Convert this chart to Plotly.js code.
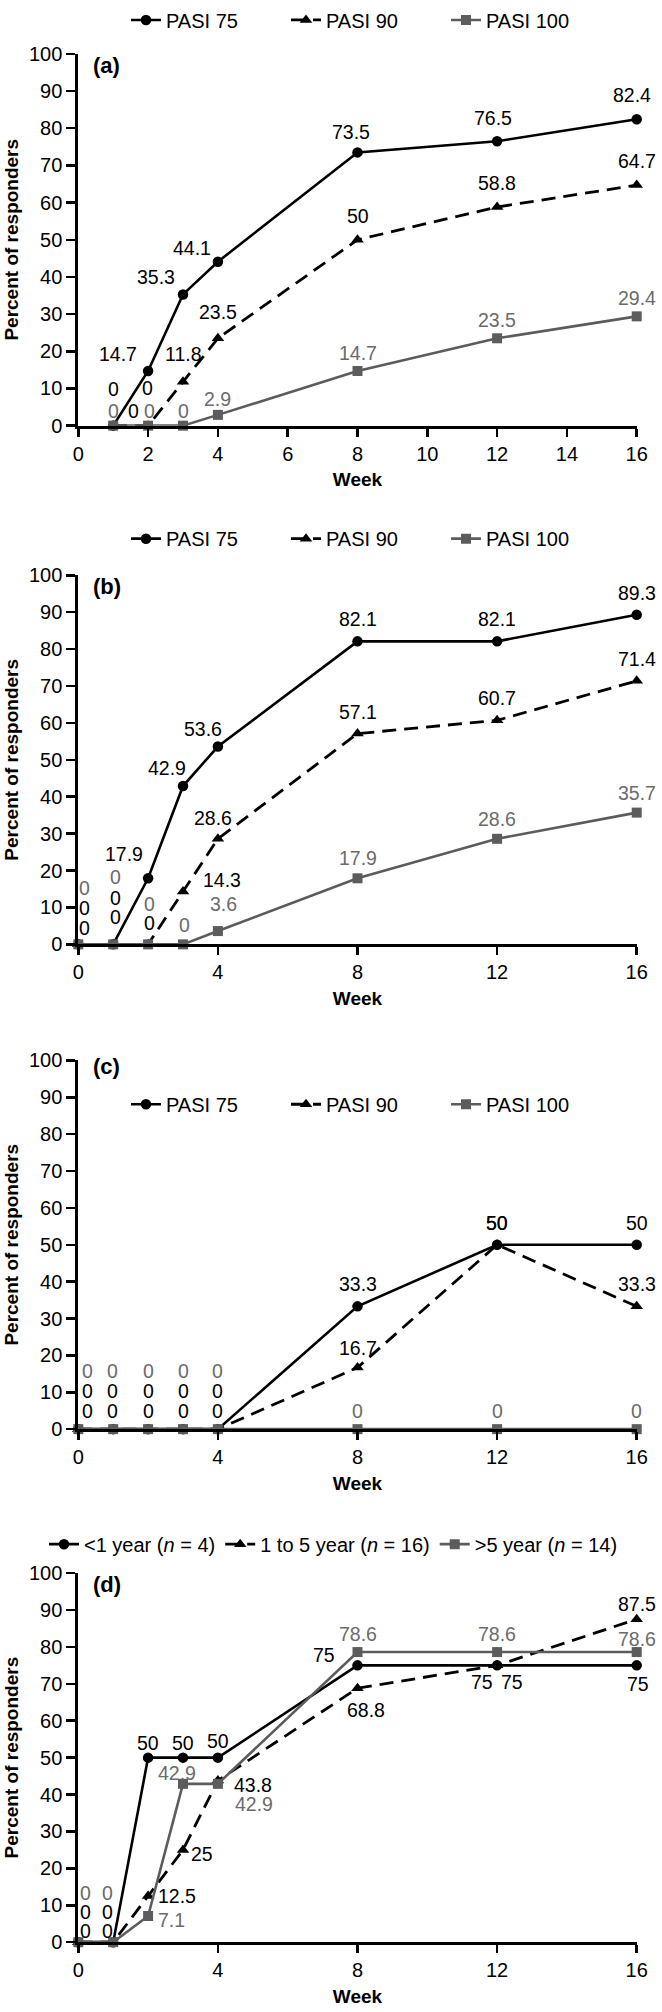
<!DOCTYPE html>
<html>
<head>
<meta charset="utf-8">
<script src="https://cdn.plot.ly/plotly-3.0.1.min.js"></script>
<style>
html,body{margin:0;padding:0;background:#fff;}
#chart{width:662px;height:2012px;}
</style>
</head>
<body>
<div id="chart"></div>
<script>
// ---------------- DATA ----------------
// Panel (a)
const weeksA = [1, 2, 3, 4, 8, 12, 16];
const pasi75A = [0, 14.7, 35.3, 44.1, 73.5, 76.5, 82.4];
const pasi90A = [0, 0, 11.8, 23.5, 50, 58.8, 64.7];
const pasi100A = [0, 0, 0, 2.9, 14.7, 23.5, 29.4];
// Panel (b)
const weeksB = [0, 1, 2, 3, 4, 8, 12, 16];
const pasi75B = [0, 0, 17.9, 42.9, 53.6, 82.1, 82.1, 89.3];
const pasi90B = [0, 0, 0, 14.3, 28.6, 57.1, 60.7, 71.4];
const pasi100B = [0, 0, 0, 0, 3.6, 17.9, 28.6, 35.7];
// Panel (c)
const weeksC = [0, 1, 2, 3, 4, 8, 12, 16];
const pasi75C = [0, 0, 0, 0, 0, 33.3, 50, 50];
const pasi90C = [0, 0, 0, 0, 0, 16.7, 50, 33.3];
const pasi100C = [0, 0, 0, 0, 0, 0, 0, 0];
// Panel (d)
const weeksD = [0, 1, 2, 3, 4, 8, 12, 16];
const lt1yrD = [0, 0, 50, 50, 50, 75, 75, 75];
const yr1to5D = [0, 0, 12.5, 25, 43.8, 68.8, 75, 87.5];
const gt5yrD = [0, 0, 7.1, 42.9, 42.9, 78.6, 78.6, 78.6];

const namesPASI = ['PASI 75', 'PASI 90', 'PASI 100'];
const namesD = ['<1 year (<i>n</i> = 4)', '1 to 5 year (<i>n</i> = 16)', '>5 year (<i>n</i> = 14)'];
const panelLetters = ['(a)', '(b)', '(c)', '(d)'];
const xTicksA = [0, 2, 4, 6, 8, 10, 12, 14, 16];
const xTicksBCD = [0, 4, 8, 12, 16];
const yTicks = [0, 10, 20, 30, 40, 50, 60, 70, 80, 90, 100];
const yTitle = 'Percent of responders';
const xTitle = 'Week';

// ---------------- LABEL PLACEMENT (pixel shifts: [right, up]) ----------------
const shiftA = [
  [[0,37],[-30,17],[-27,17],[-26,14],[-7,20],[-4,23],[-5,24]],
  [[34,38],[-15,15],[0,28],[0,26],[0,24],[0,24],[0,24]],
  [[0,15],[1,15],[0,15],[0,16],[0,18],[0,18],[0,18]]
];
const shiftB = [
  [[6,16],[2,27],[-24,24],[-16,18],[-15,18],[0,22],[0,22],[0,22]],
  [[6,36],[2,46],[1,21],[39,12],[-5,21],[0,22],[0,22],[0,22]],
  [[6,56],[2,67],[1,40],[1,19],[6,27],[0,20],[0,20],[0,20]]
];
const shiftC = [
  [[9,38],[-1,38],[0,38],[0,38],[0,38],[0,22],[0,22],[0,22]],
  [[9,18],[-1,18],[0,18],[0,18],[0,18],[0,20],[0,22],[0,22]],
  [[9,58],[-1,58],[0,58],[0,58],[0,58],[0,18],[0,18],[0,18]]
];
const shiftD = [
  [[7,30],[-6,30],[0,15],[0,15],[0,17],[-34,10],[-15,-17],[1,-19]],
  [[7,11],[-6,11],[29,0],[19,-4],[35,-4],[8,-22],[15,-17],[0,15]],
  [[7,49],[-6,49],[23,-4],[-6,11],[36,-20],[0,18],[0,18],[0,13]]
];

// ---------------- STYLE ----------------
const FONT = 'Liberation Sans, Arial, Helvetica, sans-serif';
const GRAY = '#5c5c5c';
const GRAY_TXT = '#6b6b6b';
const W = 662, H = 2012;
const xL = 78.3, xR = 636.7;
const styles = [
  {line:{color:'#000', width:2.6}, marker:{symbol:'circle', size:10.5, color:'#000'}, txt:'#000'},
  {line:{color:'#000', width:2.8, dash:'14px,8px'}, marker:{symbol:'triangle-up', size:11, color:'#000'}, txt:'#000'},
  {line:{color:GRAY, width:2.6}, marker:{symbol:'square', size:10, color:GRAY}, txt:GRAY_TXT}
];

const panels = [
  {weeks:weeksA, series:[pasi75A, pasi90A, pasi100A], names:namesPASI, shifts:shiftA, ticks:xTicksA,
   top:49, bottom:421.7, legY:15, legX:126, entry:115, letterDown:12},
  {weeks:weeksB, series:[pasi75B, pasi90B, pasi100B], names:namesPASI, shifts:shiftB, ticks:xTicksBCD,
   top:571.7, bottom:941.7, legY:535, legX:126, entry:115, letterDown:11},
  {weeks:weeksC, series:[pasi75C, pasi90C, pasi100C], names:namesPASI, shifts:shiftC, ticks:xTicksBCD,
   top:1058, bottom:1427.7, legY:1102, legX:126, entry:115, letterDown:6},
  {weeks:weeksD, series:[lt1yrD, yr1to5D, gt5yrD], names:namesD, shifts:shiftD, ticks:xTicksBCD,
   top:1572, bottom:1942, legY:1543, legX:44, entry:null, letterDown:11}
];

const traces = [];
const annotations = [];
const layout = {
  width: W, height: H,
  margin: {l:0, r:0, t:0, b:0},
  paper_bgcolor: '#fff', plot_bgcolor: 'rgba(0,0,0,0)',
  font: {family: FONT, color: '#000'},
  showlegend: true,
  annotations: annotations
};

panels.forEach((p, k) => {
  const sfx = k === 0 ? '' : String(k + 1);
  const xa = 'x' + sfx, ya = 'y' + sfx;
  const legName = k === 0 ? 'legend' : 'legend' + (k + 1);
  const yDom = [1 - p.bottom / H, 1 - p.top / H];
  layout['xaxis' + sfx] = {
    domain: [xL / W, xR / W], range: [0, 16], anchor: ya,
    tickvals: p.ticks, ticktext: p.ticks.map(String),
    ticks: 'outside', ticklen: 8, tickwidth: 2.5, tickcolor: '#000',
    showline: true, linewidth: 3, linecolor: '#000',
    showgrid: false, zeroline: false, fixedrange: true,
    tickfont: {family: FONT, size: 20, color: '#000'},
    title: {text: '<b>' + xTitle + '</b>', font: {family: FONT, size: 19, color: '#000'}, standoff: 10}
  };
  layout['yaxis' + sfx] = {
    domain: yDom, range: [0, 100], anchor: xa,
    tickvals: yTicks, ticktext: yTicks.map(String),
    ticks: 'outside', ticklen: 9, tickwidth: 2.5, tickcolor: '#000',
    showline: true, linewidth: 3, linecolor: '#000',
    showgrid: false, zeroline: false, fixedrange: true,
    tickfont: {family: FONT, size: 20, color: '#000'},
    title: {text: '<b>' + yTitle + '</b>', font: {family: FONT, size: 19, color: '#000'}, standoff: 6}
  };
  const leg = {
    orientation: 'h', x: p.legX / W, y: 1 - p.legY / H, xanchor: 'left', yanchor: 'middle',
    xref: 'paper', yref: 'paper',
    font: {family: FONT, size: 20, color: '#000'}, bgcolor: 'rgba(0,0,0,0)', borderwidth: 0
  };
  if (p.entry) { leg.entrywidth = p.entry; leg.entrywidthmode = 'pixels'; }
  layout[legName] = leg;

  p.series.forEach((vals, s) => {
    const st = styles[s];
    traces.push({
      type: 'scatter', mode: 'lines+markers', x: p.weeks, y: vals, name: p.names[s],
      xaxis: xa, yaxis: ya, legend: legName, cliponaxis: false,
      line: st.line, marker: st.marker, hoverinfo: 'skip'
    });
    vals.forEach((v, i) => {
      annotations.push({
        xref: xa, yref: ya, x: p.weeks[i], y: v, text: String(v), showarrow: false,
        xshift: p.shifts[s][i][0], yshift: p.shifts[s][i][1], xanchor: 'center', yanchor: 'middle',
        borderpad: 0,
        font: {family: FONT, size: 19.5, color: st.txt}
      });
    });
  });
  annotations.push({
    xref: xa + ' domain', yref: ya + ' domain', x: (91 - xL) / (xR - xL),
    y: 1 - p.letterDown / (p.bottom - p.top),
    text: '<b>' + panelLetters[k] + '</b>', showarrow: false, xanchor: 'left', yanchor: 'middle',
    font: {family: FONT, size: 22, color: '#000'}
  });
});

Plotly.newPlot('chart', traces, layout, {staticPlot: true, displayModeBar: false});
</script>
</body>
</html>
